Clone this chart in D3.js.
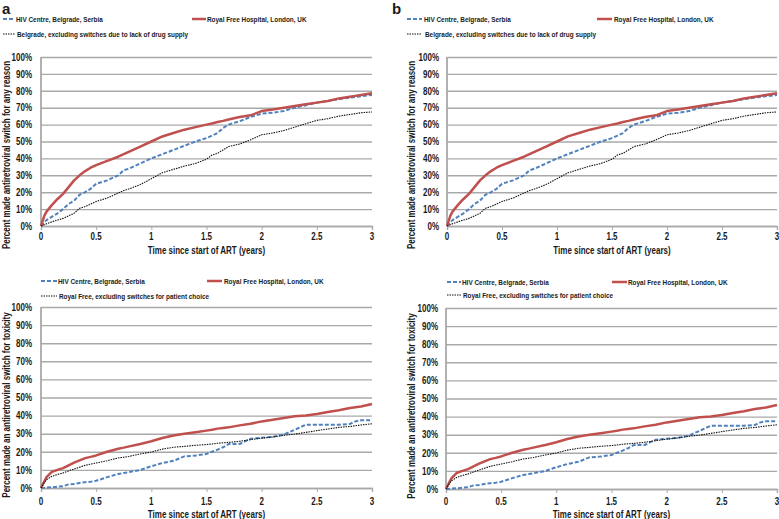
<!DOCTYPE html>
<html lang="en">
<head>
<meta charset="utf-8">
<script src="https://cdn.jsdelivr.net/npm/d3@7"></script>
<style>
    body { margin: 0; background: #fff; }
    svg { display: block; }
    text { font-family: "Liberation Sans", Arial, sans-serif; font-weight: bold; fill: #1a1a1a; }
</style>
<title>Antiretroviral switches</title>
</head>
<body>
<svg id="chart"></svg>
<script>
    // time since start of ART (years), shared sample points
    const years = [0, 0.03, 0.05, 0.1, 0.15, 0.2, 0.25, 0.3, 0.35, 0.4, 0.45, 0.5, 0.6, 0.7, 0.75, 0.8, 0.9, 1.0,
        1.1, 1.2, 1.3, 1.4, 1.5, 1.55, 1.6, 1.65, 1.7, 1.8, 1.9, 2.0, 2.1, 2.2, 2.3, 2.4, 2.5,
        2.6, 2.7, 2.8, 2.85, 2.9, 3.0];

    // switch for any reason (%)
    const anyBelgrade = [0, 2, 3.5, 5.5, 7.5, 10, 13, 15, 18.5, 20, 22, 25, 27, 30, 33, 34, 37, 40,
        42.5, 45, 47.5, 50, 52, 53.5, 55, 58, 60, 62, 64.5, 66.5, 67, 68, 70, 71.5, 73,
        74, 75, 76, 76.4, 76.8, 77.5];
    const anyRoyalFree = [0, 6, 8.5, 12.5, 16, 19, 23, 27, 30, 32.5, 34.5, 36, 38.5, 41, 42.5, 44, 47, 50,
        53, 55, 57, 58.5, 60, 60.7, 61.5, 62.2, 63, 64.5, 65.5, 68, 69, 70, 71, 72, 73,
        74, 75.5, 76.5, 77, 77.5, 78.6];
    const anyBelgradeExcl = [0, 0.8, 1.3, 2.5, 3.5, 4.5, 6, 7.5, 10.5, 11.5, 13, 14.5, 16.5, 19.5, 21, 22, 24.5, 28,
        31.5, 33.5, 35.5, 37, 39.5, 42, 43, 45, 47, 48.5, 51, 54, 55, 56.5, 58.5, 60.5, 62.5,
        63.5, 65, 66, 66.5, 67, 67.5];

    // switch for toxicity (%)
    const toxBelgrade = [0, 0.1, 0.2, 0.4, 0.7, 1, 2, 2.2, 2.8, 3.2, 3.5, 4, 6, 7.7, 8.3, 8.8, 10, 12,
        13.8, 15, 17.5, 17.9, 18.8, 20, 21.2, 22.5, 24.3, 24.3, 27.2, 27.8, 28.2, 29.5, 32.2, 35, 35,
        35, 35, 35.4, 36.8, 37.4, 37.4];
    const toxRoyalFree = [0, 3.7, 6, 9, 10, 11, 12.5, 14, 15.3, 16.5, 17.2, 18, 20, 21.7, 22.3, 23, 24.3, 25.8,
        27.6, 29, 30, 30.8, 31.7, 32.2, 32.8, 33.2, 33.5, 34.6, 35.5, 36.8, 37.7, 38.7, 39.6, 40.1, 40.9,
        42, 43, 44.2, 44.6, 45, 46.4];
    const toxRoyalFreeExcl = [0, 3, 4.6, 6.5, 7.5, 8.3, 9.4, 10.5, 11.5, 12.5, 13.2, 13.8, 15.1, 16.6, 17, 17.5, 18.8, 19.9,
        21.5, 22.5, 23, 23.6, 24, 24.3, 24.7, 25, 25.2, 25.8, 26.7, 27.6, 28.2, 29.1, 29.8, 30.7, 31.7,
        32.6, 33.5, 34, 34.4, 34.8, 35.5];

    const xTicks = [0, 0.5, 1, 1.5, 2, 2.5, 3];
    const yTicks = [0, 10, 20, 30, 40, 50, 60, 70, 80, 90, 100];

    const anyNames = ["HIV Centre, Belgrade, Serbia", "Royal Free Hospital, London, UK",
        "Belgrade, excluding switches due to lack of drug supply"];
    const toxNames = ["HIV Centre, Belgrade, Serbia", "Royal Free Hospital, London, UK",
        "Royal Free, excluding switches for patient choice"];
    const anyTitle = "Percent made antiretroviral switch for any reason";
    const toxTitle = "Percent made an antiretroviral switch for toxicity";
    const xTitle = "Time since start of ART (years)";

    const styles = [
        {color: "#4f81bd", width: 2, dash: "4,2"},
        {color: "#c0504d", width: 2.5, dash: null},
        {color: "#111111", width: 1.1, dash: "1.5,1"}
    ];

    const panels = [
        {x0: 41, x1: 372, y0: 57, y1: 226, tickX: 32, titleX: 6, titleY: 155, xTickY: 236, xTitleY: 250,
            letter: "a", letterX: 2, series: [anyBelgrade, anyRoyalFree, anyBelgradeExcl], names: anyNames, title: anyTitle,
            leg: {r1: 19, r2: 34, s1: 3, s2: 15, t: 16, rs1: 192, rs2: 206, rt: 207}},
        {x0: 447, x1: 777, y0: 57, y1: 226, tickX: 439, titleX: 411, titleY: 155, xTickY: 236, xTitleY: 250,
            letter: "b", letterX: 392, series: [anyBelgrade, anyRoyalFree, anyBelgradeExcl], names: anyNames, title: anyTitle,
            leg: {r1: 19, r2: 34, s1: 407, s2: 422, t: 424, rs1: 597, rs2: 612, rt: 614}},
        {x0: 41, x1: 372, y0: 307, y1: 488, tickX: 32, titleX: 6, titleY: 405, xTickY: 501, xTitleY: 514,
            letter: null, series: [toxBelgrade, toxRoyalFree, toxRoyalFreeExcl], names: toxNames, title: toxTitle,
            leg: {r1: 281, r2: 296, s1: 41, s2: 57, t: 58, rs1: 207, rs2: 222, rt: 224}},
        {x0: 446, x1: 777, y0: 308, y1: 489, tickX: 438, titleX: 411, titleY: 406, xTickY: 501, xTitleY: 514,
            letter: null, series: [toxBelgrade, toxRoyalFree, toxRoyalFreeExcl], names: toxNames, title: toxTitle,
            leg: {r1: 282, r2: 295, s1: 447, s2: 461, t: 462, rs1: 612, rs2: 627, rt: 628}}
    ];

    const svg = d3.select("#chart").attr("width", 779).attr("height", 519);

    panels.forEach(p => {
        const g = svg.append("g");
        const x = d3.scaleLinear().domain([0, 3]).range([p.x0, p.x1]);
        const y = d3.scaleLinear().domain([0, 100]).range([p.y1, p.y0]);

        // horizontal gridlines
        g.append("g")
            .attr("transform", `translate(${p.x0},0)`)
            .call(d3.axisRight(y).tickValues(yTicks).tickSize(p.x1 - p.x0).tickFormat(""))
            .call(a => a.select(".domain").remove())
            .call(a => a.selectAll("line").attr("stroke", "#a9a9a9").attr("stroke-width", 1.4));

        // y tick labels
        g.append("g")
            .attr("transform", `translate(${p.tickX},0)`)
            .call(d3.axisLeft(y).tickValues(yTicks).tickSize(0).tickPadding(0).tickFormat(d => d + "%"))
            .call(a => a.select(".domain").remove())
            .call(a => a.selectAll("text").attr("class", "cz").attr("font-size", 10)
                .attr("font-family", null).attr("fill", null));

        // x axis with small ticks below
        g.append("g")
            .attr("transform", `translate(0,${p.y1})`)
            .call(d3.axisBottom(x).tickValues(xTicks).tickSize(4).tickFormat(""))
            .call(a => a.select(".domain").attr("stroke", "#a9a9a9").attr("stroke-width", 1.4))
            .call(a => a.selectAll("line").attr("stroke", "#a9a9a9"));

        g.append("g")
            .selectAll("text")
            .data(xTicks)
            .join("text")
            .attr("class", "cz")
            .attr("x", d => x(d))
            .attr("y", p.xTickY)
            .attr("dy", "0.35em")
            .attr("text-anchor", "middle")
            .attr("font-size", 10)
            .text(d => d3.format("")(d));

        // vertical axis line
        g.append("line")
            .attr("x1", p.x0).attr("x2", p.x0)
            .attr("y1", p.y0).attr("y2", p.y1)
            .attr("stroke", "#a9a9a9").attr("stroke-width", 1.8);

        // curves
        const line = d3.line().x((d, i) => x(years[i])).y(d => y(d));
        p.series.forEach((s, i) => {
            const st = styles[i];
            g.append("path")
                .datum(s)
                .attr("fill", "none")
                .attr("stroke", st.color)
                .attr("stroke-width", st.width)
                .attr("stroke-dasharray", st.dash)
                .attr("stroke-linejoin", "round")
                .attr("d", line);
        });

        // titles
        g.append("text")
            .attr("class", "cz")
            .attr("x", (p.x0 + p.x1) / 2)
            .attr("y", p.xTitleY)
            .attr("dy", "0.35em")
            .attr("text-anchor", "middle")
            .attr("font-size", 10)
            .text(xTitle);

        g.append("text")
            .attr("class", "cz")
            .attr("transform", `translate(${p.titleX},${p.titleY}) rotate(-90)`)
            .attr("dy", "0.35em")
            .attr("text-anchor", "middle")
            .attr("font-size", 10)
            .text(p.title);

        if (p.letter) {
            g.append("text")
                .attr("x", p.letterX)
                .attr("y", 14)
                .attr("font-size", 15)
                .text(p.letter);
        }

        // legend
        const L = p.leg;
        const legRows = [
            {x1: L.s1, x2: L.s2, tx: L.t, y: L.r1},
            {x1: L.rs1, x2: L.rs2, tx: L.rt, y: L.r1},
            {x1: L.s1, x2: L.s2, tx: L.t + 1, y: L.r2}
        ];
        legRows.forEach((r, i) => {
            const st = styles[i];
            g.append("line")
                .attr("x1", r.x1).attr("x2", r.x2)
                .attr("y1", r.y).attr("y2", r.y)
                .attr("stroke", st.color)
                .attr("stroke-width", st.width)
                .attr("stroke-dasharray", st.dash);
            g.append("text")
                .attr("class", "cz")
                .attr("x", r.tx)
                .attr("y", r.y)
                .attr("dy", "0.35em")
                .attr("font-size", 8)
                .text(p.names[i]);
        });
    });

    // narrow the text to mimic the original condensed face
    svg.selectAll("text.cz").each(function () {
        const w = this.getComputedTextLength();
        d3.select(this).attr("textLength", w * 0.8).attr("lengthAdjust", "spacingAndGlyphs");
    });
</script>
</body>
</html>
